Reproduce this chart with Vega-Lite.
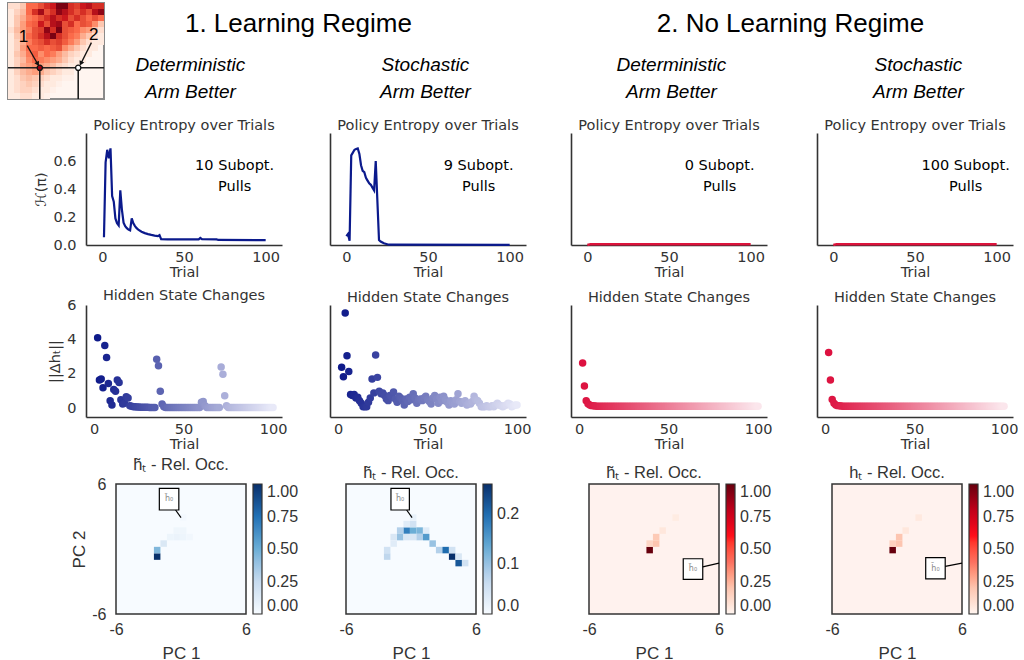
{
"$schema":"https://vega.github.io/schema/vega-lite/v6.json",
"padding":{"left":6,"top":2,"right":0,"bottom":0},
"background":"white",
"config":{
 "view":{"stroke":null},
 "axis":{"grid":false,"ticks":false,"domainColor":"#333","domainWidth":1.6,"labelFont":"DejaVu Sans","labelFontSize":14.5,"labelColor":"#333","titleFont":"DejaVu Sans","titleFontSize":14.5,"titleFontWeight":"normal","titleColor":"#333","labelFlush":false,"labelOverlap":false},
 "title":{"fontWeight":"normal"},
 "legend":{"labelOverlap":false},
 "text":{"font":"DejaVu Sans"}
},
"datasets":{
 "ent1":[{"trial":1,"h":0.056},{"trial":2,"h":0.59},{"trial":3,"h":0.68},{"trial":4,"h":0.62},{"trial":5,"h":0.69},{"trial":6,"h":0.35},{"trial":7,"h":0.31},{"trial":8,"h":0.19},{"trial":9,"h":0.155},{"trial":10,"h":0.14},{"trial":11,"h":0.39},{"trial":12,"h":0.25},{"trial":13,"h":0.16},{"trial":14,"h":0.135},{"trial":15,"h":0.12},{"trial":16,"h":0.11},{"trial":17,"h":0.105},{"trial":18,"h":0.19},{"trial":19,"h":0.155},{"trial":20,"h":0.135},{"trial":21,"h":0.12},{"trial":22,"h":0.11},{"trial":24,"h":0.095},{"trial":26,"h":0.085},{"trial":28,"h":0.078},{"trial":30,"h":0.072},{"trial":32,"h":0.067},{"trial":34,"h":0.063},{"trial":35,"h":0.07},{"trial":36,"h":0.042},{"trial":40,"h":0.04},{"trial":59,"h":0.04},{"trial":60,"h":0.05},{"trial":61,"h":0.042},{"trial":70,"h":0.04},{"trial":71,"h":0.036},{"trial":100,"h":0.035}],
 "ent2":[{"trial":0,"h":0.063},{"trial":1,"h":0.078},{"trial":2,"h":0.03},{"trial":3,"h":0.64},{"trial":4,"h":0.66},{"trial":5,"h":0.68},{"trial":6,"h":0.685},{"trial":7,"h":0.69},{"trial":8,"h":0.65},{"trial":9,"h":0.57},{"trial":10,"h":0.53},{"trial":11,"h":0.52},{"trial":12,"h":0.48},{"trial":13,"h":0.46},{"trial":14,"h":0.44},{"trial":15,"h":0.43},{"trial":16,"h":0.41},{"trial":17,"h":0.39},{"trial":18,"h":0.6},{"trial":20,"h":0.035},{"trial":21,"h":0.025},{"trial":23,"h":0.012},{"trial":26,"h":0.002},{"trial":100,"h":0.001}],
 "ent3":[{"trial":0,"h":0.0},{"trial":2,"h":0.006},{"trial":100,"h":0.006}],
 "ent4":[{"trial":0,"h":0.0},{"trial":2,"h":0.006},{"trial":100,"h":0.006}],
 "hid1":[{"trial":2,"d":4.1},{"trial":3,"d":1.65},{"trial":4,"d":1.7},{"trial":5,"d":1.2},{"trial":6,"d":3.65},{"trial":7,"d":2.95},{"trial":8,"d":1.45},{"trial":9,"d":0.45},{"trial":10,"d":0.2},{"trial":11,"d":1.1},{"trial":12,"d":1.0},{"trial":13,"d":1.65},{"trial":14,"d":1.5},{"trial":15,"d":0.5},{"trial":16,"d":0.25},{"trial":17,"d":0.3},{"trial":18,"d":0.68},{"trial":19,"d":0.6},{"trial":20,"d":0.15},{"trial":21,"d":0.12},{"trial":22,"d":0.1},{"trial":23,"d":0.09},{"trial":24,"d":0.08},{"trial":25,"d":0.08},{"trial":26,"d":0.07},{"trial":27,"d":0.07},{"trial":28,"d":0.06},{"trial":29,"d":0.06},{"trial":30,"d":0.06},{"trial":31,"d":0.05},{"trial":32,"d":0.05},{"trial":33,"d":0.05},{"trial":34,"d":0.05},{"trial":35,"d":2.85},{"trial":36,"d":2.47},{"trial":37,"d":1.0},{"trial":38,"d":0.25},{"trial":39,"d":0.1},{"trial":40,"d":0.05},{"trial":41,"d":0.05},{"trial":42,"d":0.05},{"trial":43,"d":0.05},{"trial":44,"d":0.05},{"trial":45,"d":0.05},{"trial":46,"d":0.05},{"trial":47,"d":0.05},{"trial":48,"d":0.05},{"trial":49,"d":0.05},{"trial":50,"d":0.05},{"trial":51,"d":0.05},{"trial":52,"d":0.05},{"trial":53,"d":0.05},{"trial":54,"d":0.05},{"trial":55,"d":0.05},{"trial":56,"d":0.05},{"trial":57,"d":0.05},{"trial":58,"d":0.05},{"trial":59,"d":0.05},{"trial":60,"d":0.35},{"trial":61,"d":0.4},{"trial":62,"d":0.15},{"trial":63,"d":0.05},{"trial":64,"d":0.05},{"trial":65,"d":0.05},{"trial":66,"d":0.05},{"trial":67,"d":0.05},{"trial":68,"d":0.05},{"trial":69,"d":0.05},{"trial":70,"d":0.05},{"trial":71,"d":2.4},{"trial":72,"d":1.98},{"trial":73,"d":0.74},{"trial":74,"d":0.15},{"trial":75,"d":0.05},{"trial":76,"d":0.05},{"trial":77,"d":0.05},{"trial":78,"d":0.05},{"trial":79,"d":0.05},{"trial":80,"d":0.05},{"trial":81,"d":0.05},{"trial":82,"d":0.05},{"trial":83,"d":0.05},{"trial":84,"d":0.05},{"trial":85,"d":0.05},{"trial":86,"d":0.05},{"trial":87,"d":0.05},{"trial":88,"d":0.05},{"trial":89,"d":0.05},{"trial":90,"d":0.05},{"trial":91,"d":0.05},{"trial":92,"d":0.05},{"trial":93,"d":0.05},{"trial":94,"d":0.05},{"trial":95,"d":0.05},{"trial":96,"d":0.05},{"trial":97,"d":0.05},{"trial":98,"d":0.05},{"trial":99,"d":0.05},{"trial":100,"d":0.05}],
 "hid2":[{"trial":2,"d":2.39},{"trial":3,"d":1.84},{"trial":4,"d":5.53},{"trial":5,"d":3.05},{"trial":6,"d":2.14},{"trial":7,"d":0.8},{"trial":8,"d":0.75},{"trial":9,"d":0.8},{"trial":10,"d":0.6},{"trial":11,"d":0.65},{"trial":12,"d":0.45},{"trial":13,"d":0.3},{"trial":14,"d":0.1},{"trial":15,"d":0.1},{"trial":16,"d":0.1},{"trial":17,"d":0.35},{"trial":18,"d":0.6},{"trial":19,"d":1.7},{"trial":20,"d":0.9},{"trial":21,"d":3.1},{"trial":22,"d":1.8},{"trial":23,"d":1.0},{"trial":24,"d":0.85},{"trial":25,"d":0.9},{"trial":26,"d":0.75},{"trial":27,"d":0.55},{"trial":28,"d":0.45},{"trial":29,"d":0.75},{"trial":30,"d":0.65},{"trial":31,"d":0.95},{"trial":32,"d":0.55},{"trial":33,"d":0.35},{"trial":34,"d":0.7},{"trial":35,"d":0.6},{"trial":36,"d":0.45},{"trial":37,"d":0.2},{"trial":38,"d":0.55},{"trial":39,"d":0.4},{"trial":40,"d":0.65},{"trial":41,"d":0.5},{"trial":42,"d":0.85},{"trial":43,"d":0.6},{"trial":44,"d":0.3},{"trial":45,"d":0.5},{"trial":46,"d":0.55},{"trial":47,"d":0.45},{"trial":48,"d":0.6},{"trial":49,"d":0.7},{"trial":50,"d":0.5},{"trial":51,"d":0.4},{"trial":52,"d":0.25},{"trial":53,"d":0.6},{"trial":54,"d":0.75},{"trial":55,"d":0.55},{"trial":56,"d":0.3},{"trial":57,"d":0.65},{"trial":58,"d":0.45},{"trial":59,"d":0.7},{"trial":60,"d":0.5},{"trial":61,"d":0.35},{"trial":62,"d":0.2},{"trial":63,"d":0.45},{"trial":64,"d":0.3},{"trial":65,"d":0.25},{"trial":66,"d":0.5},{"trial":67,"d":0.85},{"trial":68,"d":0.4},{"trial":69,"d":0.3},{"trial":70,"d":0.35},{"trial":71,"d":0.45},{"trial":72,"d":0.2},{"trial":73,"d":0.3},{"trial":74,"d":0.25},{"trial":75,"d":0.4},{"trial":76,"d":0.7},{"trial":77,"d":0.5},{"trial":78,"d":0.45},{"trial":79,"d":0.3},{"trial":80,"d":0.1},{"trial":81,"d":0.1},{"trial":82,"d":0.1},{"trial":83,"d":0.15},{"trial":84,"d":0.1},{"trial":85,"d":0.1},{"trial":86,"d":0.15},{"trial":87,"d":0.1},{"trial":88,"d":0.2},{"trial":89,"d":0.3},{"trial":90,"d":0.2},{"trial":91,"d":0.15},{"trial":92,"d":0.1},{"trial":93,"d":0.15},{"trial":94,"d":0.2},{"trial":95,"d":0.3},{"trial":96,"d":0.25},{"trial":97,"d":0.1},{"trial":98,"d":0.15},{"trial":99,"d":0.2},{"trial":100,"d":0.2}],
 "hid3":[{"trial":2,"d":2.64},{"trial":3,"d":1.3},{"trial":4,"d":0.45},{"trial":5,"d":0.27},{"trial":6,"d":0.2},{"trial":7,"d":0.16},{"trial":8,"d":0.15},{"trial":9,"d":0.14},{"trial":10,"d":0.13},{"trial":11,"d":0.13},{"trial":12,"d":0.13},{"trial":13,"d":0.13},{"trial":14,"d":0.13},{"trial":15,"d":0.13},{"trial":16,"d":0.13},{"trial":17,"d":0.13},{"trial":18,"d":0.13},{"trial":19,"d":0.13},{"trial":20,"d":0.13},{"trial":21,"d":0.13},{"trial":22,"d":0.13},{"trial":23,"d":0.13},{"trial":24,"d":0.13},{"trial":25,"d":0.13},{"trial":26,"d":0.13},{"trial":27,"d":0.13},{"trial":28,"d":0.13},{"trial":29,"d":0.13},{"trial":30,"d":0.13},{"trial":31,"d":0.13},{"trial":32,"d":0.13},{"trial":33,"d":0.13},{"trial":34,"d":0.13},{"trial":35,"d":0.13},{"trial":36,"d":0.13},{"trial":37,"d":0.13},{"trial":38,"d":0.13},{"trial":39,"d":0.13},{"trial":40,"d":0.13},{"trial":41,"d":0.13},{"trial":42,"d":0.13},{"trial":43,"d":0.13},{"trial":44,"d":0.13},{"trial":45,"d":0.13},{"trial":46,"d":0.13},{"trial":47,"d":0.13},{"trial":48,"d":0.13},{"trial":49,"d":0.13},{"trial":50,"d":0.13},{"trial":51,"d":0.13},{"trial":52,"d":0.13},{"trial":53,"d":0.13},{"trial":54,"d":0.13},{"trial":55,"d":0.13},{"trial":56,"d":0.13},{"trial":57,"d":0.13},{"trial":58,"d":0.13},{"trial":59,"d":0.13},{"trial":60,"d":0.13},{"trial":61,"d":0.13},{"trial":62,"d":0.13},{"trial":63,"d":0.13},{"trial":64,"d":0.13},{"trial":65,"d":0.13},{"trial":66,"d":0.13},{"trial":67,"d":0.13},{"trial":68,"d":0.13},{"trial":69,"d":0.13},{"trial":70,"d":0.13},{"trial":71,"d":0.13},{"trial":72,"d":0.13},{"trial":73,"d":0.13},{"trial":74,"d":0.13},{"trial":75,"d":0.13},{"trial":76,"d":0.13},{"trial":77,"d":0.13},{"trial":78,"d":0.13},{"trial":79,"d":0.13},{"trial":80,"d":0.13},{"trial":81,"d":0.13},{"trial":82,"d":0.13},{"trial":83,"d":0.13},{"trial":84,"d":0.13},{"trial":85,"d":0.13},{"trial":86,"d":0.13},{"trial":87,"d":0.13},{"trial":88,"d":0.13},{"trial":89,"d":0.13},{"trial":90,"d":0.13},{"trial":91,"d":0.13},{"trial":92,"d":0.13},{"trial":93,"d":0.13},{"trial":94,"d":0.13},{"trial":95,"d":0.13},{"trial":96,"d":0.13},{"trial":97,"d":0.13},{"trial":98,"d":0.13},{"trial":99,"d":0.13},{"trial":100,"d":0.13}],
 "hid4":[{"trial":2,"d":3.24},{"trial":3,"d":1.65},{"trial":4,"d":0.52},{"trial":5,"d":0.3},{"trial":6,"d":0.2},{"trial":7,"d":0.16},{"trial":8,"d":0.15},{"trial":9,"d":0.14},{"trial":10,"d":0.13},{"trial":11,"d":0.13},{"trial":12,"d":0.13},{"trial":13,"d":0.13},{"trial":14,"d":0.13},{"trial":15,"d":0.13},{"trial":16,"d":0.13},{"trial":17,"d":0.13},{"trial":18,"d":0.13},{"trial":19,"d":0.13},{"trial":20,"d":0.13},{"trial":21,"d":0.13},{"trial":22,"d":0.13},{"trial":23,"d":0.13},{"trial":24,"d":0.13},{"trial":25,"d":0.13},{"trial":26,"d":0.13},{"trial":27,"d":0.13},{"trial":28,"d":0.13},{"trial":29,"d":0.13},{"trial":30,"d":0.13},{"trial":31,"d":0.13},{"trial":32,"d":0.13},{"trial":33,"d":0.13},{"trial":34,"d":0.13},{"trial":35,"d":0.13},{"trial":36,"d":0.13},{"trial":37,"d":0.13},{"trial":38,"d":0.13},{"trial":39,"d":0.13},{"trial":40,"d":0.13},{"trial":41,"d":0.13},{"trial":42,"d":0.13},{"trial":43,"d":0.13},{"trial":44,"d":0.13},{"trial":45,"d":0.13},{"trial":46,"d":0.13},{"trial":47,"d":0.13},{"trial":48,"d":0.13},{"trial":49,"d":0.13},{"trial":50,"d":0.13},{"trial":51,"d":0.13},{"trial":52,"d":0.13},{"trial":53,"d":0.13},{"trial":54,"d":0.13},{"trial":55,"d":0.13},{"trial":56,"d":0.13},{"trial":57,"d":0.13},{"trial":58,"d":0.13},{"trial":59,"d":0.13},{"trial":60,"d":0.13},{"trial":61,"d":0.13},{"trial":62,"d":0.13},{"trial":63,"d":0.13},{"trial":64,"d":0.13},{"trial":65,"d":0.13},{"trial":66,"d":0.13},{"trial":67,"d":0.13},{"trial":68,"d":0.13},{"trial":69,"d":0.13},{"trial":70,"d":0.13},{"trial":71,"d":0.13},{"trial":72,"d":0.13},{"trial":73,"d":0.13},{"trial":74,"d":0.13},{"trial":75,"d":0.13},{"trial":76,"d":0.13},{"trial":77,"d":0.13},{"trial":78,"d":0.13},{"trial":79,"d":0.13},{"trial":80,"d":0.13},{"trial":81,"d":0.13},{"trial":82,"d":0.13},{"trial":83,"d":0.13},{"trial":84,"d":0.13},{"trial":85,"d":0.13},{"trial":86,"d":0.13},{"trial":87,"d":0.13},{"trial":88,"d":0.13},{"trial":89,"d":0.13},{"trial":90,"d":0.13},{"trial":91,"d":0.13},{"trial":92,"d":0.13},{"trial":93,"d":0.13},{"trial":94,"d":0.13},{"trial":95,"d":0.13},{"trial":96,"d":0.13},{"trial":97,"d":0.13},{"trial":98,"d":0.13},{"trial":99,"d":0.13},{"trial":100,"d":0.13}],
 "occ1":[{"x0":-2.5,"x1":-1.9,"y0":-1.0,"y1":-0.4,"v":1.0},{"x0":-2.5,"x1":-1.9,"y0":-0.4,"y1":0.2,"v":0.45},{"x0":-1.9,"x1":-1.3,"y0":0.2,"y1":0.8,"v":0.15},{"x0":-1.3,"x1":-0.7,"y0":0.8,"y1":1.4,"v":0.05},{"x0":-0.7,"x1":-0.1,"y0":0.8,"y1":1.4,"v":0.06},{"x0":-0.1,"x1":0.5,"y0":0.8,"y1":1.4,"v":0.05},{"x0":0.5,"x1":1.1,"y0":0.8,"y1":1.4,"v":0.03},{"x0":-0.7,"x1":-0.1,"y0":1.4,"y1":2.0,"v":0.04},{"x0":-0.1,"x1":0.5,"y0":1.4,"y1":2.0,"v":0.04},{"x0":-0.1,"x1":0.5,"y0":2.6,"y1":3.2,"v":0.02}],
 "occ2":[{"x0":-0.7,"x1":-0.1,"y0":1.4,"y1":2.0,"v":0.18},{"x0":-0.1,"x1":0.5,"y0":1.4,"y1":2.0,"v":0.13},{"x0":0.5,"x1":1.1,"y0":1.4,"y1":2.0,"v":0.12},{"x0":-1.3,"x1":-0.7,"y0":1.4,"y1":2.0,"v":0.08},{"x0":1.1,"x1":1.7,"y0":1.4,"y1":2.0,"v":0.03},{"x0":-1.3,"x1":-0.7,"y0":0.8,"y1":1.4,"v":0.1},{"x0":-1.9,"x1":-1.3,"y0":0.8,"y1":1.4,"v":0.04},{"x0":-0.7,"x1":-0.1,"y0":0.8,"y1":1.4,"v":0.04},{"x0":-0.1,"x1":0.5,"y0":0.8,"y1":1.4,"v":0.04},{"x0":0.5,"x1":1.1,"y0":0.8,"y1":1.4,"v":0.08},{"x0":1.1,"x1":1.7,"y0":0.8,"y1":1.4,"v":0.15},{"x0":1.7,"x1":2.3,"y0":0.2,"y1":0.8,"v":0.1},{"x0":2.3,"x1":2.9,"y0":-0.4,"y1":0.2,"v":0.08},{"x0":2.9,"x1":3.5,"y0":-0.4,"y1":0.2,"v":0.2},{"x0":3.5,"x1":4.1,"y0":-1.0,"y1":-0.4,"v":0.26},{"x0":4.1,"x1":4.7,"y0":-1.6,"y1":-1.0,"v":0.22},{"x0":4.7,"x1":5.3,"y0":-1.6,"y1":-1.0,"v":0.05},{"x0":3.5,"x1":4.1,"y0":-0.4,"y1":0.2,"v":0.05},{"x0":4.1,"x1":4.7,"y0":-1.0,"y1":-0.4,"v":0.04},{"x0":-2.5,"x1":-1.9,"y0":-0.4,"y1":0.2,"v":0.05},{"x0":-2.5,"x1":-1.9,"y0":-1.0,"y1":-0.4,"v":0.07},{"x0":-1.9,"x1":-1.3,"y0":0.2,"y1":0.8,"v":0.03},{"x0":-0.7,"x1":-0.1,"y0":2.0,"y1":2.6,"v":0.03},{"x0":-0.1,"x1":0.5,"y0":2.0,"y1":2.6,"v":0.05},{"x0":-0.1,"x1":0.5,"y0":2.6,"y1":3.2,"v":0.02}],
 "occ3":[{"x0":-0.7,"x1":-0.1,"y0":-0.4,"y1":0.2,"v":1.0},{"x0":-0.7,"x1":-0.1,"y0":0.2,"y1":0.8,"v":0.13},{"x0":-0.1,"x1":0.5,"y0":0.2,"y1":0.8,"v":0.2},{"x0":-0.1,"x1":0.5,"y0":0.8,"y1":1.4,"v":0.18},{"x0":0.5,"x1":1.1,"y0":1.4,"y1":2.0,"v":0.06},{"x0":1.7,"x1":2.3,"y0":2.6,"y1":3.2,"v":0.04}],
 "occ4":[{"x0":-0.7,"x1":-0.1,"y0":-0.4,"y1":0.2,"v":1.0},{"x0":-0.7,"x1":-0.1,"y0":0.2,"y1":0.8,"v":0.15},{"x0":-0.1,"x1":0.5,"y0":0.2,"y1":0.8,"v":0.2},{"x0":-0.1,"x1":0.5,"y0":0.8,"y1":1.4,"v":0.2},{"x0":0.5,"x1":1.1,"y0":1.4,"y1":2.0,"v":0.06},{"x0":1.7,"x1":2.3,"y0":2.6,"y1":3.2,"v":0.05}],
 "inset":[
{"r":0,"c":0,"v":0.1},{"r":0,"c":1,"v":0.1},{"r":0,"c":2,"v":0.2},{"r":0,"c":3,"v":0.5},{"r":0,"c":4,"v":0.5},{"r":0,"c":5,"v":0.6},{"r":0,"c":6,"v":0.7},{"r":0,"c":7,"v":0.75},{"r":0,"c":8,"v":0.95},{"r":0,"c":9,"v":0.95},{"r":0,"c":10,"v":0.7},{"r":0,"c":11,"v":0.65},{"r":0,"c":12,"v":0.75},{"r":0,"c":13,"v":0.8},{"r":0,"c":14,"v":0.7},{"r":0,"c":15,"v":0.7},
{"r":1,"c":0,"v":0.05},{"r":1,"c":1,"v":0.15},{"r":1,"c":2,"v":0.25},{"r":1,"c":3,"v":0.5},{"r":1,"c":4,"v":0.7},{"r":1,"c":5,"v":0.85},{"r":1,"c":6,"v":0.6},{"r":1,"c":7,"v":0.7},{"r":1,"c":8,"v":0.9},{"r":1,"c":9,"v":0.8},{"r":1,"c":10,"v":0.7},{"r":1,"c":11,"v":0.6},{"r":1,"c":12,"v":0.7},{"r":1,"c":13,"v":0.6},{"r":1,"c":14,"v":0.8},{"r":1,"c":15,"v":0.9},
{"r":2,"c":0,"v":0.05},{"r":2,"c":1,"v":0.2},{"r":2,"c":2,"v":0.3},{"r":2,"c":3,"v":0.45},{"r":2,"c":4,"v":0.5},{"r":2,"c":5,"v":0.6},{"r":2,"c":6,"v":0.7},{"r":2,"c":7,"v":0.8},{"r":2,"c":8,"v":0.7},{"r":2,"c":9,"v":0.75},{"r":2,"c":10,"v":0.6},{"r":2,"c":11,"v":0.7},{"r":2,"c":12,"v":0.6},{"r":2,"c":13,"v":0.5},{"r":2,"c":14,"v":0.6},{"r":2,"c":15,"v":0.5},
{"r":3,"c":0,"v":0.05},{"r":3,"c":1,"v":0.2},{"r":3,"c":2,"v":0.35},{"r":3,"c":3,"v":0.5},{"r":3,"c":4,"v":0.55},{"r":3,"c":5,"v":0.75},{"r":3,"c":6,"v":0.6},{"r":3,"c":7,"v":0.8},{"r":3,"c":8,"v":0.85},{"r":3,"c":9,"v":0.6},{"r":3,"c":10,"v":0.7},{"r":3,"c":11,"v":0.5},{"r":3,"c":12,"v":0.6},{"r":3,"c":13,"v":0.55},{"r":3,"c":14,"v":0.4},{"r":3,"c":15,"v":0.2},
{"r":4,"c":0,"v":0.1},{"r":4,"c":1,"v":0.25},{"r":4,"c":2,"v":0.35},{"r":4,"c":3,"v":0.45},{"r":4,"c":4,"v":0.6},{"r":4,"c":5,"v":0.65},{"r":4,"c":6,"v":0.9},{"r":4,"c":7,"v":0.7},{"r":4,"c":8,"v":0.95},{"r":4,"c":9,"v":0.6},{"r":4,"c":10,"v":0.55},{"r":4,"c":11,"v":0.5},{"r":4,"c":12,"v":0.4},{"r":4,"c":13,"v":0.35},{"r":4,"c":14,"v":0.2},{"r":4,"c":15,"v":0.1},
{"r":5,"c":0,"v":0.05},{"r":5,"c":1,"v":0.2},{"r":5,"c":2,"v":0.3},{"r":5,"c":3,"v":0.5},{"r":5,"c":4,"v":0.6},{"r":5,"c":5,"v":0.7},{"r":5,"c":6,"v":0.8},{"r":5,"c":7,"v":0.95},{"r":5,"c":8,"v":0.7},{"r":5,"c":9,"v":0.6},{"r":5,"c":10,"v":0.5},{"r":5,"c":11,"v":0.45},{"r":5,"c":12,"v":0.3},{"r":5,"c":13,"v":0.2},{"r":5,"c":14,"v":0.1},{"r":5,"c":15,"v":0.05},
{"r":6,"c":0,"v":0.05},{"r":6,"c":1,"v":0.15},{"r":6,"c":2,"v":0.3},{"r":6,"c":3,"v":0.45},{"r":6,"c":4,"v":0.55},{"r":6,"c":5,"v":0.6},{"r":6,"c":6,"v":0.7},{"r":6,"c":7,"v":0.6},{"r":6,"c":8,"v":0.65},{"r":6,"c":9,"v":0.55},{"r":6,"c":10,"v":0.45},{"r":6,"c":11,"v":0.35},{"r":6,"c":12,"v":0.2},{"r":6,"c":13,"v":0.1},{"r":6,"c":14,"v":0.05},{"r":6,"c":15,"v":0.05},
{"r":7,"c":0,"v":0.05},{"r":7,"c":1,"v":0.15},{"r":7,"c":2,"v":0.35},{"r":7,"c":3,"v":0.5},{"r":7,"c":4,"v":0.5},{"r":7,"c":5,"v":0.55},{"r":7,"c":6,"v":0.5},{"r":7,"c":7,"v":0.55},{"r":7,"c":8,"v":0.6},{"r":7,"c":9,"v":0.4},{"r":7,"c":10,"v":0.3},{"r":7,"c":11,"v":0.2},{"r":7,"c":12,"v":0.1},{"r":7,"c":13,"v":0.05},{"r":7,"c":14,"v":0.05},
{"r":8,"c":0,"v":0.05},{"r":8,"c":1,"v":0.2},{"r":8,"c":2,"v":0.3},{"r":8,"c":3,"v":0.45},{"r":8,"c":4,"v":0.55},{"r":8,"c":5,"v":0.4},{"r":8,"c":6,"v":0.5},{"r":8,"c":7,"v":0.45},{"r":8,"c":8,"v":0.35},{"r":8,"c":9,"v":0.25},{"r":8,"c":10,"v":0.15},{"r":8,"c":11,"v":0.1},{"r":8,"c":12,"v":0.05},{"r":8,"c":13,"v":0.05},
{"r":9,"c":0,"v":0.05},{"r":9,"c":1,"v":0.15},{"r":9,"c":2,"v":0.25},{"r":9,"c":3,"v":0.4},{"r":9,"c":4,"v":0.5},{"r":9,"c":5,"v":0.45},{"r":9,"c":6,"v":0.4},{"r":9,"c":7,"v":0.35},{"r":9,"c":8,"v":0.3},{"r":9,"c":9,"v":0.2},{"r":9,"c":10,"v":0.1},{"r":9,"c":11,"v":0.05},{"r":9,"c":12,"v":0.05},
{"r":10,"c":0,"v":0.05},{"r":10,"c":1,"v":0.15},{"r":10,"c":2,"v":0.3},{"r":10,"c":3,"v":0.35},{"r":10,"c":4,"v":0.4},{"r":10,"c":5,"v":0.35},{"r":10,"c":6,"v":0.3},{"r":10,"c":7,"v":0.25},{"r":10,"c":8,"v":0.15},{"r":10,"c":9,"v":0.1},{"r":10,"c":10,"v":0.05},{"r":10,"c":11,"v":0.05},
{"r":11,"c":0,"v":0.05},{"r":11,"c":1,"v":0.15},{"r":11,"c":2,"v":0.25},{"r":11,"c":3,"v":0.3},{"r":11,"c":4,"v":0.35},{"r":11,"c":5,"v":0.3},{"r":11,"c":6,"v":0.2},{"r":11,"c":7,"v":0.15},{"r":11,"c":8,"v":0.1},{"r":11,"c":9,"v":0.05},{"r":11,"c":10,"v":0.05},
{"r":12,"c":0,"v":0.05},{"r":12,"c":1,"v":0.1},{"r":12,"c":2,"v":0.2},{"r":12,"c":3,"v":0.25},{"r":12,"c":4,"v":0.2},{"r":12,"c":5,"v":0.15},{"r":12,"c":6,"v":0.1},{"r":12,"c":7,"v":0.05},{"r":12,"c":8,"v":0.05},{"r":12,"c":9,"v":0.02},{"r":12,"c":10,"v":0.02},
{"r":13,"c":0,"v":0.05},{"r":13,"c":1,"v":0.1},{"r":13,"c":2,"v":0.15},{"r":13,"c":3,"v":0.2},{"r":13,"c":4,"v":0.15},{"r":13,"c":5,"v":0.1},{"r":13,"c":6,"v":0.05},{"r":13,"c":7,"v":0.05},{"r":13,"c":8,"v":0.02},
{"r":14,"c":0,"v":0.05},{"r":14,"c":1,"v":0.1},{"r":14,"c":2,"v":0.15},{"r":14,"c":3,"v":0.15},{"r":14,"c":4,"v":0.1},{"r":14,"c":5,"v":0.05},{"r":14,"c":6,"v":0.05},{"r":14,"c":7,"v":0.02},
{"r":15,"c":0,"v":0.05},{"r":15,"c":1,"v":0.05},{"r":15,"c":2,"v":0.1},{"r":15,"c":3,"v":0.1},{"r":15,"c":4,"v":0.05},{"r":15,"c":5,"v":0.05},{"r":15,"c":6,"v":0.02}]
},
"resolve":{"scale":{"color":"independent"}},
"spacing":-91,
"vconcat":[
 {
  "width":96,"height":96,
  "view":{"fill":"#fff5f0","stroke":"#8a8a8a","strokeWidth":2},
  "resolve":{"scale":{"x":"independent","y":"independent"}},
  "layer":[
   {"data":{"name":"inset"},"mark":{"type":"rect"},"encoding":{
     "x":{"field":"c","type":"ordinal","axis":null,"scale":{"domain":[0,1,2,3,4,5,6,7,8,9,10,11,12,13,14,15],"paddingInner":0,"paddingOuter":0}},
     "y":{"field":"r","type":"ordinal","axis":null,"scale":{"domain":[0,1,2,3,4,5,6,7,8,9,10,11,12,13,14,15],"paddingInner":0,"paddingOuter":0}},
     "color":{"field":"v","type":"quantitative","scale":{"domain":[0,0.25,0.5,0.75,1],"range":["#fff5f0","#fcbba1","#fb6a4a","#cb181d","#67000d"]},"legend":null}}},
   {"layer":[
     {"data":{"values":[{}]},"mark":{"type":"rule","color":"#222","strokeWidth":1.5},"encoding":{"x":{"datum":0,"type":"quantitative","scale":{"domain":[0,16]},"axis":null},"x2":{"datum":16},"y":{"datum":5.2,"type":"quantitative","scale":{"domain":[0,16]},"axis":null}}},
     {"data":{"values":[{}]},"mark":{"type":"rule","color":"#111","strokeWidth":1.5},"encoding":{"x":{"datum":5.3,"type":"quantitative"},"y":{"datum":0,"type":"quantitative"},"y2":{"datum":5.2}}},
     {"data":{"values":[{}]},"mark":{"type":"rule","color":"#111","strokeWidth":1.5},"encoding":{"x":{"datum":11.7,"type":"quantitative"},"y":{"datum":0,"type":"quantitative"},"y2":{"datum":5.2}}},
     {"data":{"values":[{}]},"mark":{"type":"rule","color":"#111","strokeWidth":1.3},"encoding":{"x":{"datum":3.2,"type":"quantitative"},"y":{"datum":8.9,"type":"quantitative"},"x2":{"datum":4.85},"y2":{"datum":6.0}}},
     {"data":{"values":[{}]},"mark":{"type":"rule","color":"#111","strokeWidth":1.3},"encoding":{"x":{"datum":13.9,"type":"quantitative"},"y":{"datum":9.4,"type":"quantitative"},"x2":{"datum":12.25},"y2":{"datum":6.1}}},
     {"data":{"values":[{}]},"mark":{"type":"point","shape":"triangle","filled":true,"color":"#111","size":28,"angle":150,"opacity":1},"encoding":{"x":{"datum":4.9,"type":"quantitative"},"y":{"datum":5.95,"type":"quantitative"}}},
     {"data":{"values":[{}]},"mark":{"type":"point","shape":"triangle","filled":true,"color":"#111","size":28,"angle":207,"opacity":1},"encoding":{"x":{"datum":12.2,"type":"quantitative"},"y":{"datum":6.05,"type":"quantitative"}}},
     {"data":{"values":[{}]},"mark":{"type":"point","shape":"circle","filled":true,"fill":"#a00010","stroke":"#111","strokeWidth":1.3,"size":28,"opacity":1},"encoding":{"x":{"datum":5.3,"type":"quantitative"},"y":{"datum":5.2,"type":"quantitative"}}},
     {"data":{"values":[{}]},"mark":{"type":"point","shape":"circle","filled":true,"fill":"white","stroke":"#111","strokeWidth":1.3,"size":28,"opacity":1},"encoding":{"x":{"datum":11.7,"type":"quantitative"},"y":{"datum":5.2,"type":"quantitative"}}},
     {"data":{"values":[{"t":"1"}]},"mark":{"type":"text","font":"Liberation Sans","fontSize":17,"color":"black"},"encoding":{"x":{"datum":2.6,"type":"quantitative"},"y":{"datum":10.3,"type":"quantitative"},"text":{"field":"t"}}},
     {"data":{"values":[{"t":"2"}]},"mark":{"type":"text","font":"Liberation Sans","fontSize":17,"color":"black"},"encoding":{"x":{"datum":14.3,"type":"quantitative"},"y":{"datum":10.7,"type":"quantitative"},"text":{"field":"t"}}}
   ]}
  ]
 },
 {"spacing":24,"resolve":{"scale":{"color":"independent"}},"hconcat":[
  {"width":1,"height":1,"data":{"values":[]},"mark":"point"},
  {
  "spacing":4,"resolve":{"scale":{"color":"independent"}},
  "vconcat":[
   {"spacing":40,"resolve":{"scale":{"color":"independent"}},"hconcat":[
    {"title":{"text":"1. Learning Regime","font":"Liberation Sans","fontSize":26,"fontWeight":"normal","color":"black","anchor":"middle","offset":19,"dx":16},
     "spacing":43,"resolve":{"scale":{"color":"independent"}},
     "hconcat":[
      {"title":{"text":["Deterministic","Arm Better"],"anchor":"middle","dx":30,"font":"Liberation Sans","fontStyle":"italic","fontSize":19,"fontWeight":"normal","lineHeight":27,"color":"black","offset":16},
       "bounds":"flush","spacing":60,"resolve":{"scale":{"color":"independent"}},
       "vconcat":[
        {"width":196,"height":112,
         "title":{"text":"Policy Entropy over Trials","frame":"group","anchor":"middle","font":"DejaVu Sans","fontSize":14.5,"fontWeight":"normal","color":"#333","offset":0},
         "layer":[
          {"data":{"name":"ent1"},"mark":{"type":"line","color":"#0b1a8c","strokeWidth":2.2},"encoding":{"x":{"field":"trial","type":"quantitative","scale":{"domain":[-4.5,105]},"axis":{"values":[0,50,100],"title":"Trial","labelPadding":5,"titlePadding":2}},"y":{"field":"h","type":"quantitative","scale":{"domain":[0,0.745]},"axis":{"values":[0,0.2,0.4,0.6],"format":".1f","title":"ℋ(π)","labelPadding":10,"titlePadding":4,"labelOverlap":false}}}},
          {"data":{"values":[{"note":"10 Subopt.\nPulls"}]},"mark":{"type":"text","lineBreak":"\n","fontSize":14.5,"lineHeight":21,"color":"black"},"encoding":{"x":{"datum":81,"type":"quantitative","axis":{"values":[0,50,100],"title":"Trial","labelPadding":5,"titlePadding":2}},"y":{"datum":0.565,"type":"quantitative","axis":{"values":[0,0.2,0.4,0.6],"format":".1f","title":"ℋ(π)","labelPadding":10,"titlePadding":4,"labelOverlap":false}},"text":{"field":"note"}}}
         ]},
        {"width":196,"height":112,
         "title":{"text":"Hidden State Changes","frame":"group","anchor":"middle","font":"DejaVu Sans","fontSize":14.5,"fontWeight":"normal","color":"#333","offset":-6},
         "data":{"name":"hid1"},"mark":{"type":"circle","size":56,"opacity":1},
         "encoding":{"x":{"field":"trial","type":"quantitative","scale":{"domain":[-4.5,105]},"axis":{"values":[0,50,100],"title":"Trial","labelPadding":5,"titlePadding":2}},"y":{"field":"d","type":"quantitative","scale":{"domain":[-0.5,6]},"axis":{"values":[0,2,4,6],"title":"||Δhₜ||","labelPadding":10,"titlePadding":4}},"color":{"field":"trial","type":"quantitative","scale":{"domain":[0,100],"range":["#0a1688","#e8e9f8"],"interpolate":"rgb"},"legend":null}}}
       ]},
      {"title":{"text":["Stochastic","Arm Better"],"anchor":"middle","dx":-5,"font":"Liberation Sans","fontStyle":"italic","fontSize":19,"fontWeight":"normal","lineHeight":27,"color":"black","offset":16},
       "bounds":"flush","spacing":60,"resolve":{"scale":{"color":"independent"}},
       "vconcat":[
        {"width":196,"height":112,
         "title":{"text":"Policy Entropy over Trials","frame":"group","anchor":"middle","font":"DejaVu Sans","fontSize":14.5,"fontWeight":"normal","color":"#333","offset":0},
         "layer":[
          {"data":{"name":"ent2"},"mark":{"type":"line","color":"#0b1a8c","strokeWidth":2.2},"encoding":{"x":{"field":"trial","type":"quantitative","scale":{"domain":[-4.5,105]},"axis":{"values":[0,50,100],"title":"Trial","labelPadding":5,"titlePadding":2}},"y":{"field":"h","type":"quantitative","scale":{"domain":[0,0.745]},"axis":{"labels":false,"title":null}}}},
          {"data":{"values":[{"note":"9 Subopt.\nPulls"}]},"mark":{"type":"text","lineBreak":"\n","fontSize":14.5,"lineHeight":21,"color":"black"},"encoding":{"x":{"datum":81},"y":{"datum":0.565},"text":{"field":"note"}}}
         ]},
        {"width":196,"height":112,
         "title":{"text":"Hidden State Changes","frame":"group","anchor":"middle","font":"DejaVu Sans","fontSize":14.5,"fontWeight":"normal","color":"#333","offset":0},
         "data":{"name":"hid2"},"mark":{"type":"circle","size":56,"opacity":1},
         "encoding":{"x":{"field":"trial","type":"quantitative","scale":{"domain":[-4.5,105]},"axis":{"values":[0,50,100],"title":"Trial","labelPadding":5,"titlePadding":2}},"y":{"field":"d","type":"quantitative","scale":{"domain":[-0.5,6]},"axis":{"labels":false,"title":null}},"color":{"field":"trial","type":"quantitative","scale":{"domain":[0,100],"range":["#0a1688","#e8e9f8"],"interpolate":"rgb"},"legend":null}}}
       ]}
     ]},
    {"title":{"text":"2. No Learning Regime","font":"Liberation Sans","fontSize":26,"fontWeight":"normal","color":"black","anchor":"middle","offset":19,"dx":-4},
     "spacing":45,"resolve":{"scale":{"color":"independent"}},
     "hconcat":[
      {"title":{"text":["Deterministic","Arm Better"],"anchor":"middle","dx":0,"font":"Liberation Sans","fontStyle":"italic","fontSize":19,"fontWeight":"normal","lineHeight":27,"color":"black","offset":16},
       "bounds":"flush","spacing":60,"resolve":{"scale":{"color":"independent"}},
       "vconcat":[
        {"width":196,"height":112,
         "title":{"text":"Policy Entropy over Trials","frame":"group","anchor":"middle","font":"DejaVu Sans","fontSize":14.5,"fontWeight":"normal","color":"#333","offset":0},
         "layer":[
          {"data":{"name":"ent3"},"mark":{"type":"line","color":"#dc143c","strokeWidth":2.5},"encoding":{"x":{"field":"trial","type":"quantitative","scale":{"domain":[-4.5,105]},"axis":{"values":[0,50,100],"title":"Trial","labelPadding":5,"titlePadding":2}},"y":{"field":"h","type":"quantitative","scale":{"domain":[0,0.745]},"axis":{"labels":false,"title":null}}}},
          {"data":{"values":[{"note":"0 Subopt.\nPulls"}]},"mark":{"type":"text","lineBreak":"\n","fontSize":14.5,"lineHeight":21,"color":"black"},"encoding":{"x":{"datum":81},"y":{"datum":0.565},"text":{"field":"note"}}}
         ]},
        {"width":196,"height":112,
         "title":{"text":"Hidden State Changes","frame":"group","anchor":"middle","font":"DejaVu Sans","fontSize":14.5,"fontWeight":"normal","color":"#333","offset":0},
         "data":{"name":"hid3"},"mark":{"type":"circle","size":56,"opacity":1},
         "encoding":{"x":{"field":"trial","type":"quantitative","scale":{"domain":[-4.5,105]},"axis":{"values":[0,50,100],"title":"Trial","labelPadding":5,"titlePadding":2}},"y":{"field":"d","type":"quantitative","scale":{"domain":[-0.5,6]},"axis":{"labels":false,"title":null}},"color":{"field":"trial","type":"quantitative","scale":{"domain":[0,100],"range":["#dc0d3c","#fbe6ec"],"interpolate":"rgb"},"legend":null}}}
       ]},
      {"title":{"text":["Stochastic","Arm Better"],"anchor":"middle","dx":1,"font":"Liberation Sans","fontStyle":"italic","fontSize":19,"fontWeight":"normal","lineHeight":27,"color":"black","offset":16},
       "bounds":"flush","spacing":60,"resolve":{"scale":{"color":"independent"}},
       "vconcat":[
        {"width":196,"height":112,
         "title":{"text":"Policy Entropy over Trials","frame":"group","anchor":"middle","font":"DejaVu Sans","fontSize":14.5,"fontWeight":"normal","color":"#333","offset":0},
         "layer":[
          {"data":{"name":"ent4"},"mark":{"type":"line","color":"#dc143c","strokeWidth":2.5},"encoding":{"x":{"field":"trial","type":"quantitative","scale":{"domain":[-4.5,105]},"axis":{"values":[0,50,100],"title":"Trial","labelPadding":5,"titlePadding":2}},"y":{"field":"h","type":"quantitative","scale":{"domain":[0,0.745]},"axis":{"labels":false,"title":null}}}},
          {"data":{"values":[{"note":"100 Subopt.\nPulls"}]},"mark":{"type":"text","lineBreak":"\n","fontSize":14.5,"lineHeight":21,"color":"black"},"encoding":{"x":{"datum":81},"y":{"datum":0.565},"text":{"field":"note"}}}
         ]},
        {"width":196,"height":112,
         "title":{"text":"Hidden State Changes","frame":"group","anchor":"middle","font":"DejaVu Sans","fontSize":14.5,"fontWeight":"normal","color":"#333","offset":0},
         "data":{"name":"hid4"},"mark":{"type":"circle","size":56,"opacity":1},
         "encoding":{"x":{"field":"trial","type":"quantitative","scale":{"domain":[-4.5,105]},"axis":{"values":[0,50,100],"title":"Trial","labelPadding":5,"titlePadding":2}},"y":{"field":"d","type":"quantitative","scale":{"domain":[-0.5,6]},"axis":{"labels":false,"title":null}},"color":{"field":"trial","type":"quantitative","scale":{"domain":[0,100],"range":["#dc0d3c","#fbe6ec"],"interpolate":"rgb"},"legend":null}}}
       ]}
     ]}
   ]},
   {"spacing":-17,"resolve":{"scale":{"color":"independent"}},"hconcat":[
    {"width":1,"height":1,"data":{"values":[]},"mark":"point"},
    {"spacing":38,"resolve":{"scale":{"color":"independent"}},"hconcat":[
     {"width":130,"height":130,
      "view":{"fill":"#f7fbff","stroke":"#333","strokeWidth":1.5},
      "title":{"text":"h̃ₜ - Rel. Occ.","frame":"group","anchor":"middle","font":"Liberation Sans","fontSize":16.5,"fontWeight":"normal","color":"#333","offset":3},
      "layer":[
       {"data":{"name":"occ1"},"mark":{"type":"rect"},"encoding":{
         "x":{"field":"x0","type":"quantitative","scale":{"domain":[-6,6]},"axis":{"values":[-6,6],"title":"PC 1","domain":false,"labelFont":"Liberation Sans","labelFontSize":16,"labelPadding":7,"titleFont":"Liberation Sans","titleFontSize":17,"titlePadding":8,"labelExpr":"replace(datum.label, '−', '-')"}},
         "x2":{"field":"x1"},
         "y":{"field":"y0","type":"quantitative","scale":{"domain":[-6,6]},"axis":{"values":[-6,6],"title":"PC 2","domain":false,"labelFont":"Liberation Sans","labelFontSize":16,"labelPadding":10,"titleFont":"Liberation Sans","titleFontSize":17,"titlePadding":3,"labelExpr":"replace(datum.label, '−', '-')"}},
         "y2":{"field":"y1"},
         "color":{"field":"v","type":"quantitative","scale":{"domain":[0,0.25,0.5,0.75,1],"range":["#f7fbff","#c6dbef","#6baed6","#2171b5","#08306b"]},"legend":{"title":null,"orient":"right","offset":7,"direction":"vertical","gradientLength":130,"gradientThickness":9,"values":[0,0.25,0.5,0.75,1],"format":".2f","labelFont":"Liberation Sans","labelFontSize":16,"labelColor":"#333","labelOffset":5,"labelBaseline":"middle","gradientStrokeColor":"#333","gradientStrokeWidth":1.2}}}},
       {"data":{"values":[{}]},"mark":{"type":"rect","fill":"white","stroke":"black","strokeWidth":1.2},"encoding":{"x":{"datum":-2.0},"x2":{"datum":-0.2},"y":{"datum":3.6},"y2":{"datum":5.6}}},
       {"data":{"values":[{"t":"h̃₀"}]},"mark":{"type":"text","fontSize":8,"color":"#888"},"encoding":{"x":{"datum":-1.1},"y":{"datum":4.6},"text":{"field":"t"}}},
       {"data":{"values":[{}]},"mark":{"type":"rule","color":"black","strokeWidth":1.2},"encoding":{"x":{"datum":-0.5},"y":{"datum":3.6},"x2":{"datum":0.0},"y2":{"datum":2.9}}}
      ]},
     {"bounds":"flush","spacing":113,"resolve":{"scale":{"color":"independent"}},"hconcat":[
      {"width":130,"height":130,
       "view":{"fill":"#f7fbff","stroke":"#333","strokeWidth":1.5},
       "title":{"text":"h̃ₜ - Rel. Occ.","frame":"group","anchor":"middle","font":"Liberation Sans","fontSize":16.5,"fontWeight":"normal","color":"#333","offset":3},
       "layer":[
        {"data":{"name":"occ2"},"mark":{"type":"rect"},"encoding":{
          "x":{"field":"x0","type":"quantitative","scale":{"domain":[-6,6]},"axis":{"values":[-6,6],"title":"PC 1","domain":false,"labelFont":"Liberation Sans","labelFontSize":16,"labelPadding":7,"titleFont":"Liberation Sans","titleFontSize":17,"titlePadding":8,"labelExpr":"replace(datum.label, '−', '-')"}},
          "x2":{"field":"x1"},
          "y":{"field":"y0","type":"quantitative","scale":{"domain":[-6,6]},"axis":null},
          "y2":{"field":"y1"},
          "color":{"field":"v","type":"quantitative","scale":{"domain":[0,0.065,0.13,0.195,0.26],"range":["#f7fbff","#c6dbef","#6baed6","#2171b5","#08306b"]},"legend":{"title":null,"orient":"right","offset":7,"direction":"vertical","gradientLength":130,"gradientThickness":9,"values":[0,0.1,0.2],"format":".1f","labelFont":"Liberation Sans","labelFontSize":16,"labelColor":"#333","labelOffset":5,"labelBaseline":"middle","gradientStrokeColor":"#333","gradientStrokeWidth":1.2}}}},
        {"data":{"values":[{}]},"mark":{"type":"rect","fill":"white","stroke":"black","strokeWidth":1.2},"encoding":{"x":{"datum":-1.85},"x2":{"datum":-0.15},"y":{"datum":3.6},"y2":{"datum":5.6}}},
        {"data":{"values":[{"t":"h̃₀"}]},"mark":{"type":"text","fontSize":8,"color":"#888"},"encoding":{"x":{"datum":-1.0},"y":{"datum":4.6},"text":{"field":"t"}}},
        {"data":{"values":[{}]},"mark":{"type":"rule","color":"black","strokeWidth":1.2},"encoding":{"x":{"datum":-0.4},"y":{"datum":3.6},"x2":{"datum":0.1},"y2":{"datum":2.9}}}
       ]},
      {"width":130,"height":130,
       "view":{"fill":"#fff2ee","stroke":"#333","strokeWidth":1.5},
       "title":{"text":"h̃ₜ - Rel. Occ.","frame":"group","anchor":"middle","font":"Liberation Sans","fontSize":16.5,"fontWeight":"normal","color":"#333","offset":3},
       "layer":[
        {"data":{"name":"occ3"},"mark":{"type":"rect"},"encoding":{
          "x":{"field":"x0","type":"quantitative","scale":{"domain":[-6,6]},"axis":{"values":[-6,6],"title":"PC 1","domain":false,"labelFont":"Liberation Sans","labelFontSize":16,"labelPadding":7,"titleFont":"Liberation Sans","titleFontSize":17,"titlePadding":8,"labelExpr":"replace(datum.label, '−', '-')"}},
          "x2":{"field":"x1"},
          "y":{"field":"y0","type":"quantitative","scale":{"domain":[-6,6]},"axis":null},
          "y2":{"field":"y1"},
          "color":{"field":"v","type":"quantitative","scale":{"domain":[0,0.2,0.4,0.6,0.8,1],"range":["#fff5f0","#fdc5b0","#fc7060","#ff0f1a","#c0001a","#67000d"]},"legend":{"title":null,"orient":"right","offset":7,"direction":"vertical","gradientLength":130,"gradientThickness":9,"values":[0,0.25,0.5,0.75,1],"format":".2f","labelFont":"Liberation Sans","labelFontSize":16,"labelColor":"#333","labelOffset":5,"labelBaseline":"middle","gradientStrokeColor":"#333","gradientStrokeWidth":1.2}}}},
        {"data":{"values":[{}]},"mark":{"type":"rect","fill":"white","stroke":"black","strokeWidth":1.2},"encoding":{"x":{"datum":2.7},"x2":{"datum":4.5},"y":{"datum":-2.8},"y2":{"datum":-0.9}}},
        {"data":{"values":[{"t":"h̃₀"}]},"mark":{"type":"text","fontSize":8,"color":"#888"},"encoding":{"x":{"datum":3.6},"y":{"datum":-1.85},"text":{"field":"t"}}},
        {"data":{"values":[{}]},"mark":{"type":"rule","color":"black","strokeWidth":1.2},"encoding":{"x":{"datum":4.5},"y":{"datum":-1.65},"x2":{"datum":6.0},"y2":{"datum":-1.3}}}
       ]},
      {"width":130,"height":130,
       "view":{"fill":"#fff2ee","stroke":"#333","strokeWidth":1.5},
       "title":{"text":"hₜ - Rel. Occ.","frame":"group","anchor":"middle","font":"Liberation Sans","fontSize":16.5,"fontWeight":"normal","color":"#333","offset":3},
       "layer":[
        {"data":{"name":"occ4"},"mark":{"type":"rect"},"encoding":{
          "x":{"field":"x0","type":"quantitative","scale":{"domain":[-6,6]},"axis":{"values":[-6,6],"title":"PC 1","domain":false,"labelFont":"Liberation Sans","labelFontSize":16,"labelPadding":7,"titleFont":"Liberation Sans","titleFontSize":17,"titlePadding":8,"labelExpr":"replace(datum.label, '−', '-')"}},
          "x2":{"field":"x1"},
          "y":{"field":"y0","type":"quantitative","scale":{"domain":[-6,6]},"axis":null},
          "y2":{"field":"y1"},
          "color":{"field":"v","type":"quantitative","scale":{"domain":[0,0.2,0.4,0.6,0.8,1],"range":["#fff5f0","#fdc5b0","#fc7060","#ff0f1a","#c0001a","#67000d"]},"legend":{"title":null,"orient":"right","offset":7,"direction":"vertical","gradientLength":130,"gradientThickness":9,"values":[0,0.25,0.5,0.75,1],"format":".2f","labelFont":"Liberation Sans","labelFontSize":16,"labelColor":"#333","labelOffset":5,"labelBaseline":"middle","gradientStrokeColor":"#333","gradientStrokeWidth":1.2}}}},
        {"data":{"values":[{}]},"mark":{"type":"rect","fill":"white","stroke":"black","strokeWidth":1.2},"encoding":{"x":{"datum":2.65},"x2":{"datum":4.45},"y":{"datum":-2.75},"y2":{"datum":-0.8}}},
        {"data":{"values":[{"t":"h̃₀"}]},"mark":{"type":"text","fontSize":8,"color":"#888"},"encoding":{"x":{"datum":3.55},"y":{"datum":-1.8},"text":{"field":"t"}}},
        {"data":{"values":[{}]},"mark":{"type":"rule","color":"black","strokeWidth":1.2},"encoding":{"x":{"datum":4.45},"y":{"datum":-1.6},"x2":{"datum":6.0},"y2":{"datum":-1.3}}}
       ]}
     ]}
    ]}
   ]}
  ]
  }
 ]}
]
}
